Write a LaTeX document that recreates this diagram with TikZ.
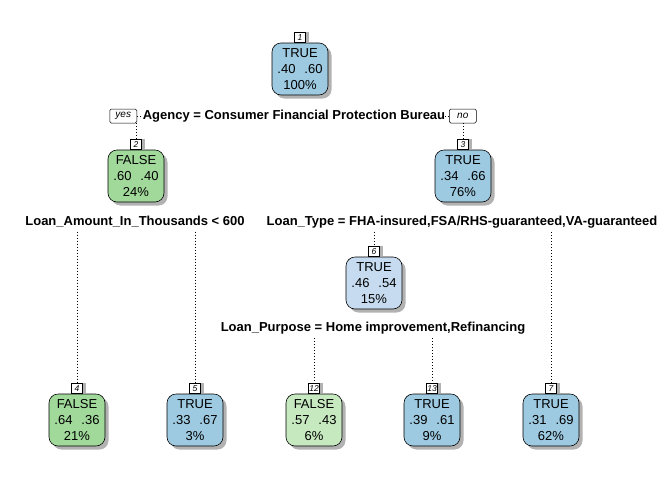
\documentclass[tikz,border=0pt]{standalone}
\usepackage{fontspec}
\setmainfont{Liberation Sans}
\usetikzlibrary{shadows}

\definecolor{trueblue}{HTML}{9ECAE1}
\definecolor{paleblue}{HTML}{C6DBEF}
\definecolor{falsegreen}{HTML}{A1D99B}
\definecolor{palegreen}{HTML}{C7E9C0}

\begin{document}
\begin{tikzpicture}
[x=1pt, y=-1pt,
 every node/.style={font=\fontsize{13}{16}\selectfont, inner sep=0pt},
 leaf/.style={draw, rounded corners=9pt, minimum width=56pt, minimum height=52pt,
   align=center, line width=0.6pt,
   drop shadow={shadow xshift=3.5pt, shadow yshift=-3.5pt, fill=black!30, opacity=1}},
 num/.style={draw, fill=white, anchor=south, minimum width=11pt, minimum height=10pt,
   font=\fontsize{8.5}{8.5}\selectfont\itshape, line width=0.5pt,
   drop shadow={shadow xshift=3pt, shadow yshift=0pt, fill=black!30, opacity=1}},
 split/.style={font=\fontsize{13}{15}\selectfont\bfseries},
 yesno/.style={draw, fill=white, rounded corners=1.5pt, minimum width=27pt,
   minimum height=14pt, font=\fontsize{10}{10}\selectfont\itshape, line width=0.5pt},
 branch/.style={line width=0.7pt, dash pattern=on 0.7pt off 2.3pt}]

\useasboundingbox (0,0) rectangle (672,480);

% tree nodes
\node[leaf, fill=trueblue] (n1) at (300,69) {TRUE\\.40\hspace{9pt}.60\\100\%};
\node[leaf, fill=falsegreen] (n2) at (136,176) {FALSE\\.60\hspace{9pt}.40\\24\%};
\node[leaf, fill=trueblue] (n3) at (463,176) {TRUE\\.34\hspace{9pt}.66\\76\%};
\node[leaf, fill=paleblue] (n6) at (374,283) {TRUE\\.46\hspace{9pt}.54\\15\%};
\node[leaf, fill=falsegreen] (n4) at (77,420) {FALSE\\.64\hspace{9pt}.36\\21\%};
\node[leaf, fill=trueblue] (n5) at (195,420) {TRUE\\.33\hspace{9pt}.67\\3\%};
\node[leaf, fill=palegreen] (n12) at (314,420) {FALSE\\.57\hspace{9pt}.43\\6\%};
\node[leaf, fill=trueblue] (n13) at (432,420) {TRUE\\.39\hspace{9pt}.61\\9\%};
\node[leaf, fill=trueblue] (n7) at (551,420) {TRUE\\.31\hspace{9pt}.69\\62\%};

% node numbers
\foreach \n in {1,2,3,6,4,5,12,13,7}
  \node[num] (b\n) at (n\n.north) {\n};

% split labels
\node[split] (s1) at (294,116) {Agency = Consumer Financial Protection Bureau};
\node[split] (s2) at (135,222) {Loan\_Amount\_In\_Thousands < 600};
\node[split] (s3) at (462,222) {Loan\_Type = FHA-insured,FSA/RHS-guaranteed,VA-guaranteed};
\node[split] (s6) at (373,328) {Loan\_Purpose = Home improvement,Refinancing};

\node[yesno, anchor=east] (yes) at (137,116) {yes};
\node[yesno, anchor=west] (no) at (449,116) {no};

% branches
\draw[branch] (yes.east) -- (s1.west);
\draw[branch] (s1.east) -- (no.west);
\draw[branch] (yes.south -| b2.north) -- (b2.north);
\draw[branch] (no.south -| b3.north) -- (b3.north);
\foreach \s/\b in {s2/b4,s2/b5,s3/b6,s3/b7,s6/b12,s6/b13}
  \draw[branch] ([yshift=-4pt]\s.south -| \b.north) -- (\b.north);

\end{tikzpicture}
\end{document}
